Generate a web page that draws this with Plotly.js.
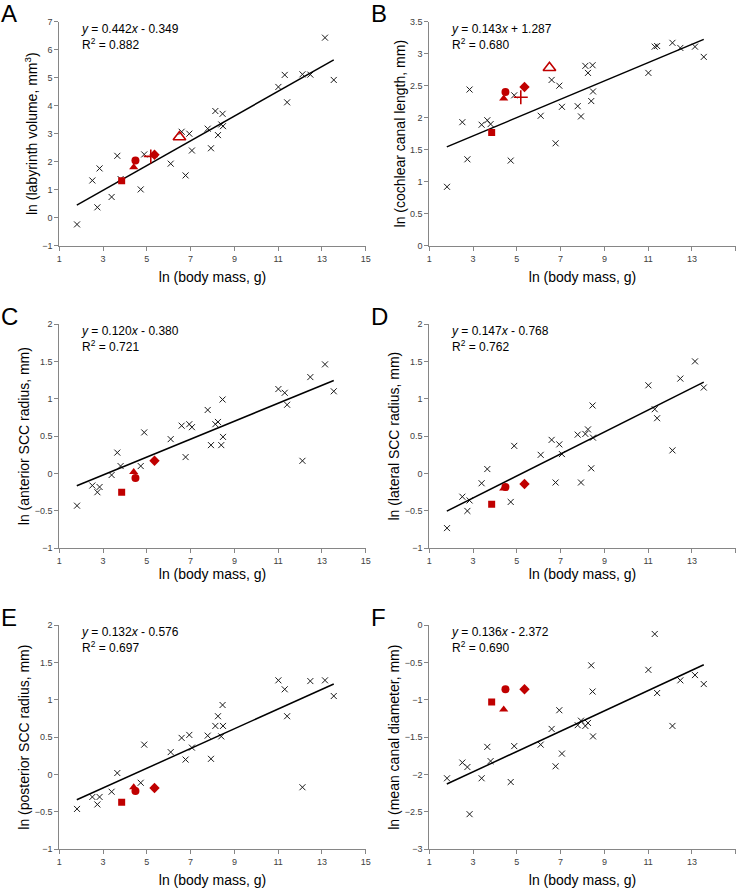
<!DOCTYPE html>
<html>
<head>
<meta charset="utf-8">
<script src="https://cdn.plot.ly/plotly-3.0.1.min.js"></script>
<style>html,body{margin:0;padding:0;background:#fff;}#chart{width:740px;height:889px;}</style>
</head>
<body>
<div id="chart"></div>
<script>
// ---- Data ----
var bodyMass = [1.81, 2.51, 2.74, 2.84, 3.39, 3.65, 3.80, 4.72, 4.88, 6.09, 6.59, 6.77, 6.94, 7.06,
                7.78, 7.93, 8.13, 8.25, 8.40, 8.46, 8.48, 11.01, 11.30, 11.41, 12.11, 12.47, 13.14, 13.54];

var labyrinthVolume = [-0.24, 1.33, 0.37, 1.76, 0.74, 2.21, 1.38, 1.01, 2.26, 1.93, 3.07, 1.51, 3.00, 2.40,
                       3.18, 2.48, 3.81, 2.95, 3.33, 3.71, 3.27, 4.67, 5.10, 4.12, 5.12, 5.11, 6.43, 4.92];
var cochlearLength = [0.92, 1.93, 1.35, 2.44, 1.89, 1.96, 1.90, 1.33, 2.35, 2.03, 2.59, 1.60, 2.50, 2.17,
                      2.18, 2.02, 2.81, 2.70, 2.26, 2.82, 2.41, 2.70, 3.11, 3.12, 3.17, 3.09, 3.11, 2.95];
var anteriorSCC = [-0.43, -0.16, -0.25, -0.18, -0.02, 0.28, 0.10, 0.10, 0.55, 0.46, 0.64, 0.22, 0.66, 0.62,
                   0.85, 0.38, 0.66, 0.69, 0.38, 0.99, 0.49, 1.13, 1.08, 0.92, 0.17, 1.29, 1.46, 1.10];
var lateralSCC = [-0.73, -0.31, -0.50, -0.36, -0.13, 0.06, null, -0.38, 0.37, 0.25, 0.45, -0.12, 0.39, 0.26,
                  0.52, -0.12, 0.53, 0.59, 0.07, 0.91, 0.48, 1.18, 0.86, 0.74, 0.31, 1.27, 1.50, 1.15];
var posteriorSCC = [-0.46, -0.30, -0.40, -0.30, -0.23, 0.02, null, -0.11, 0.40, 0.30, 0.49, 0.20, 0.53, 0.36,
                    0.52, 0.21, 0.65, 0.78, 0.51, 0.93, 0.65, 1.26, 1.14, 0.78, -0.17, 1.25, 1.26, 1.05];
var canalDiameter = [-2.05, -1.84, -1.90, -2.53, -2.05, -1.63, -1.82, -2.10, -1.62, -1.60, -1.39, -1.89, -1.14, -1.72,
                     -1.34, -1.28, -1.35, -1.31, -0.54, -0.89, -1.49, -0.60, -0.12, -0.91, -1.35, -0.74, -0.67, -0.79];

// Fossil specimens (red markers): body-mass positions and values per panel
var fossilNames = ["square", "filled triangle", "circle", "cross", "diamond", "open triangle"];
var fossilMass = [3.85, 4.40, 4.48, 5.18, 5.35, 6.49];
var fossilA = [1.32, 1.80, 2.04, 2.19, 2.25, 2.88];
var fossilB = [1.77, 2.30, 2.40, 2.32, 2.48, 2.78];
var fossilC = [-0.25, 0.02, -0.06, null, 0.17, null];
var fossilD = [-0.41, -0.20, -0.18, null, -0.14, null];
var fossilE = [-0.37, -0.17, -0.22, null, -0.18, null];
var fossilF = [-1.03, -1.13, -0.86, null, -0.86, null];

// Regression line end points (x from 1.8 to 13.54)
var trendX = [1.8, 13.54];
var trendA = [0.447, 5.636];
var trendB = [1.544, 3.223];
var trendC = [-0.164, 1.245];
var trendD = [-0.503, 1.222];
var trendE = [-0.338, 1.211];
var trendF = [-2.127, -0.531];

var equations = [
  "<i>y</i> = 0.442<i>x</i> - 0.349<br>R<sup>2</sup> = 0.882",
  "<i>y</i> = 0.143<i>x</i> + 1.287<br>R<sup>2</sup> = 0.680",
  "<i>y</i> = 0.120<i>x</i> - 0.380<br>R<sup>2</sup> = 0.721",
  "<i>y</i> = 0.147<i>x</i> - 0.768<br>R<sup>2</sup> = 0.762",
  "<i>y</i> = 0.132<i>x</i> - 0.576<br>R<sup>2</sup> = 0.697",
  "<i>y</i> = 0.136<i>x</i> - 2.372<br>R<sup>2</sup> = 0.690"
];
var yTitles = [
  "ln (labyrinth volume, mm<sup>3</sup>)",
  "ln (cochlear canal length, mm)",
  "ln (anterior SCC radius, mm)",
  "ln (lateral SCC radius, mm)",
  "ln (posterior SCC radius, mm)",
  "ln (mean canal diameter, mm)"
];
var xTitle = "ln (body mass, g)";
var panelLetters = ["A", "B", "C", "D", "E", "F"];
var yRanges = [[-1, 7], [0, 3.5], [-1, 2], [-1, 2], [-1, 2], [-3, 0]];
var yDticks = [1, 0.5, 0.5, 0.5, 0.5, 0.5];

(function () {
  var panelY = [labyrinthVolume, cochlearLength, anteriorSCC, lateralSCC, posteriorSCC, canalDiameter];
  var panelFossil = [fossilA, fossilB, fossilC, fossilD, fossilE, fossilF];
  var panelTrend = [trendA, trendB, trendC, trendD, trendE, trendF];

  // ---- Layout geometry (pixels) ----
  var W = 740, H = 889;
  var colLeft = [59.3, 429.3];
  var plotW = 306.4;
  var rowTop = [21.7, 324, 625];
  var plotH = [224, 224.3, 224.3];
  var xTitleStand = [9, 0, 9];

  var FONT = "Liberation Sans, Arial, sans-serif";
  var RED = "#c00000";
  var fossilSymbols = ["square", "triangle-up", "circle", "cross-thin-open", "diamond", "triangle-up-open"];
  var fossilSizes = [7, 8, 8, 10, 8, 11];

  var data = [];
  var layout = {
    width: W, height: H,
    margin: {l: 0, r: 0, t: 0, b: 0},
    paper_bgcolor: "#ffffff", plot_bgcolor: "#ffffff",
    showlegend: false,
    font: {family: FONT, color: "#000"},
    annotations: []
  };

  for (var p = 0; p < 6; p++) {
    var col = p % 2, row = Math.floor(p / 2);
    var sfx = p === 0 ? "" : String(p + 1);
    var xa = "x" + sfx, ya = "y" + sfx;
    var pLeft = colLeft[col], pTop = rowTop[row], pH = plotH[row];

    layout["xaxis" + sfx] = {
      domain: [pLeft / W, (pLeft + plotW) / W],
      anchor: ya,
      range: [1, 15], tick0: 1, dtick: 2,
      showline: true, linecolor: "#868686", linewidth: 1,
      ticks: "outside", ticklen: 4, tickcolor: "#868686",
      showgrid: false, zeroline: false,
      tickfont: {family: FONT, size: 9, color: "#404040"},
      title: {text: xTitle, font: {family: FONT, size: 14, color: "#000"}, standoff: xTitleStand[row]},
      automargin: false, fixedrange: true
    };
    layout["yaxis" + sfx] = {
      domain: [1 - (pTop + pH) / H, 1 - pTop / H],
      anchor: xa,
      range: yRanges[p], dtick: yDticks[p], tick0: 0,
      showline: true, linecolor: "#868686", linewidth: 1,
      ticks: "outside", ticklen: 4, tickcolor: "#868686",
      showgrid: false, zeroline: false,
      tickfont: {family: FONT, size: 9, color: "#404040"},
      title: {text: yTitles[p], font: {family: FONT, size: 14, color: "#000"}, standoff: 1},
      automargin: false, fixedrange: true
    };

    data.push({
      type: "scatter", mode: "markers", x: bodyMass, y: panelY[p], xaxis: xa, yaxis: ya,
      name: "extant species",
      marker: {symbol: "x-thin-open", size: 6, color: "#1a1a1a", line: {width: 1, color: "#1a1a1a"}},
      hoverinfo: "x+y"
    });
    data.push({
      type: "scatter", mode: "lines", x: trendX, y: panelTrend[p], xaxis: xa, yaxis: ya,
      name: "regression", line: {color: "#000", width: 1.5}, hoverinfo: "skip"
    });
    for (var k = 0; k < fossilMass.length; k++) {
      var v = panelFossil[p][k];
      if (v === null) continue;
      var open = fossilSymbols[k].indexOf("open") >= 0;
      data.push({
        type: "scatter", mode: "markers", x: [fossilMass[k]], y: [v], xaxis: xa, yaxis: ya,
        name: fossilNames[k],
        marker: {symbol: fossilSymbols[k], size: fossilSizes[k], color: RED,
                 line: {width: open ? 1.6 : 0, color: RED}},
        hoverinfo: "x+y"
      });
    }

    layout.annotations.push({
      xref: "paper", yref: "paper", x: (pLeft + 20) / W, y: 1 - (pTop - 2) / H,
      xanchor: "left", yanchor: "top", align: "left", showarrow: false,
      text: equations[p], font: {family: FONT, size: 12, color: "#000"}
    });
    layout.annotations.push({
      xref: "paper", yref: "paper", x: (col * 370) / W, y: 1 - (pTop - 8) / H,
      xanchor: "left", yanchor: "middle", showarrow: false, borderpad: 0,
      text: panelLetters[p], font: {family: FONT, size: 24, color: "#000"}
    });
  }

  Plotly.newPlot("chart", data, layout, {staticPlot: true, displayModeBar: false});
})();
</script>
</body>
</html>
